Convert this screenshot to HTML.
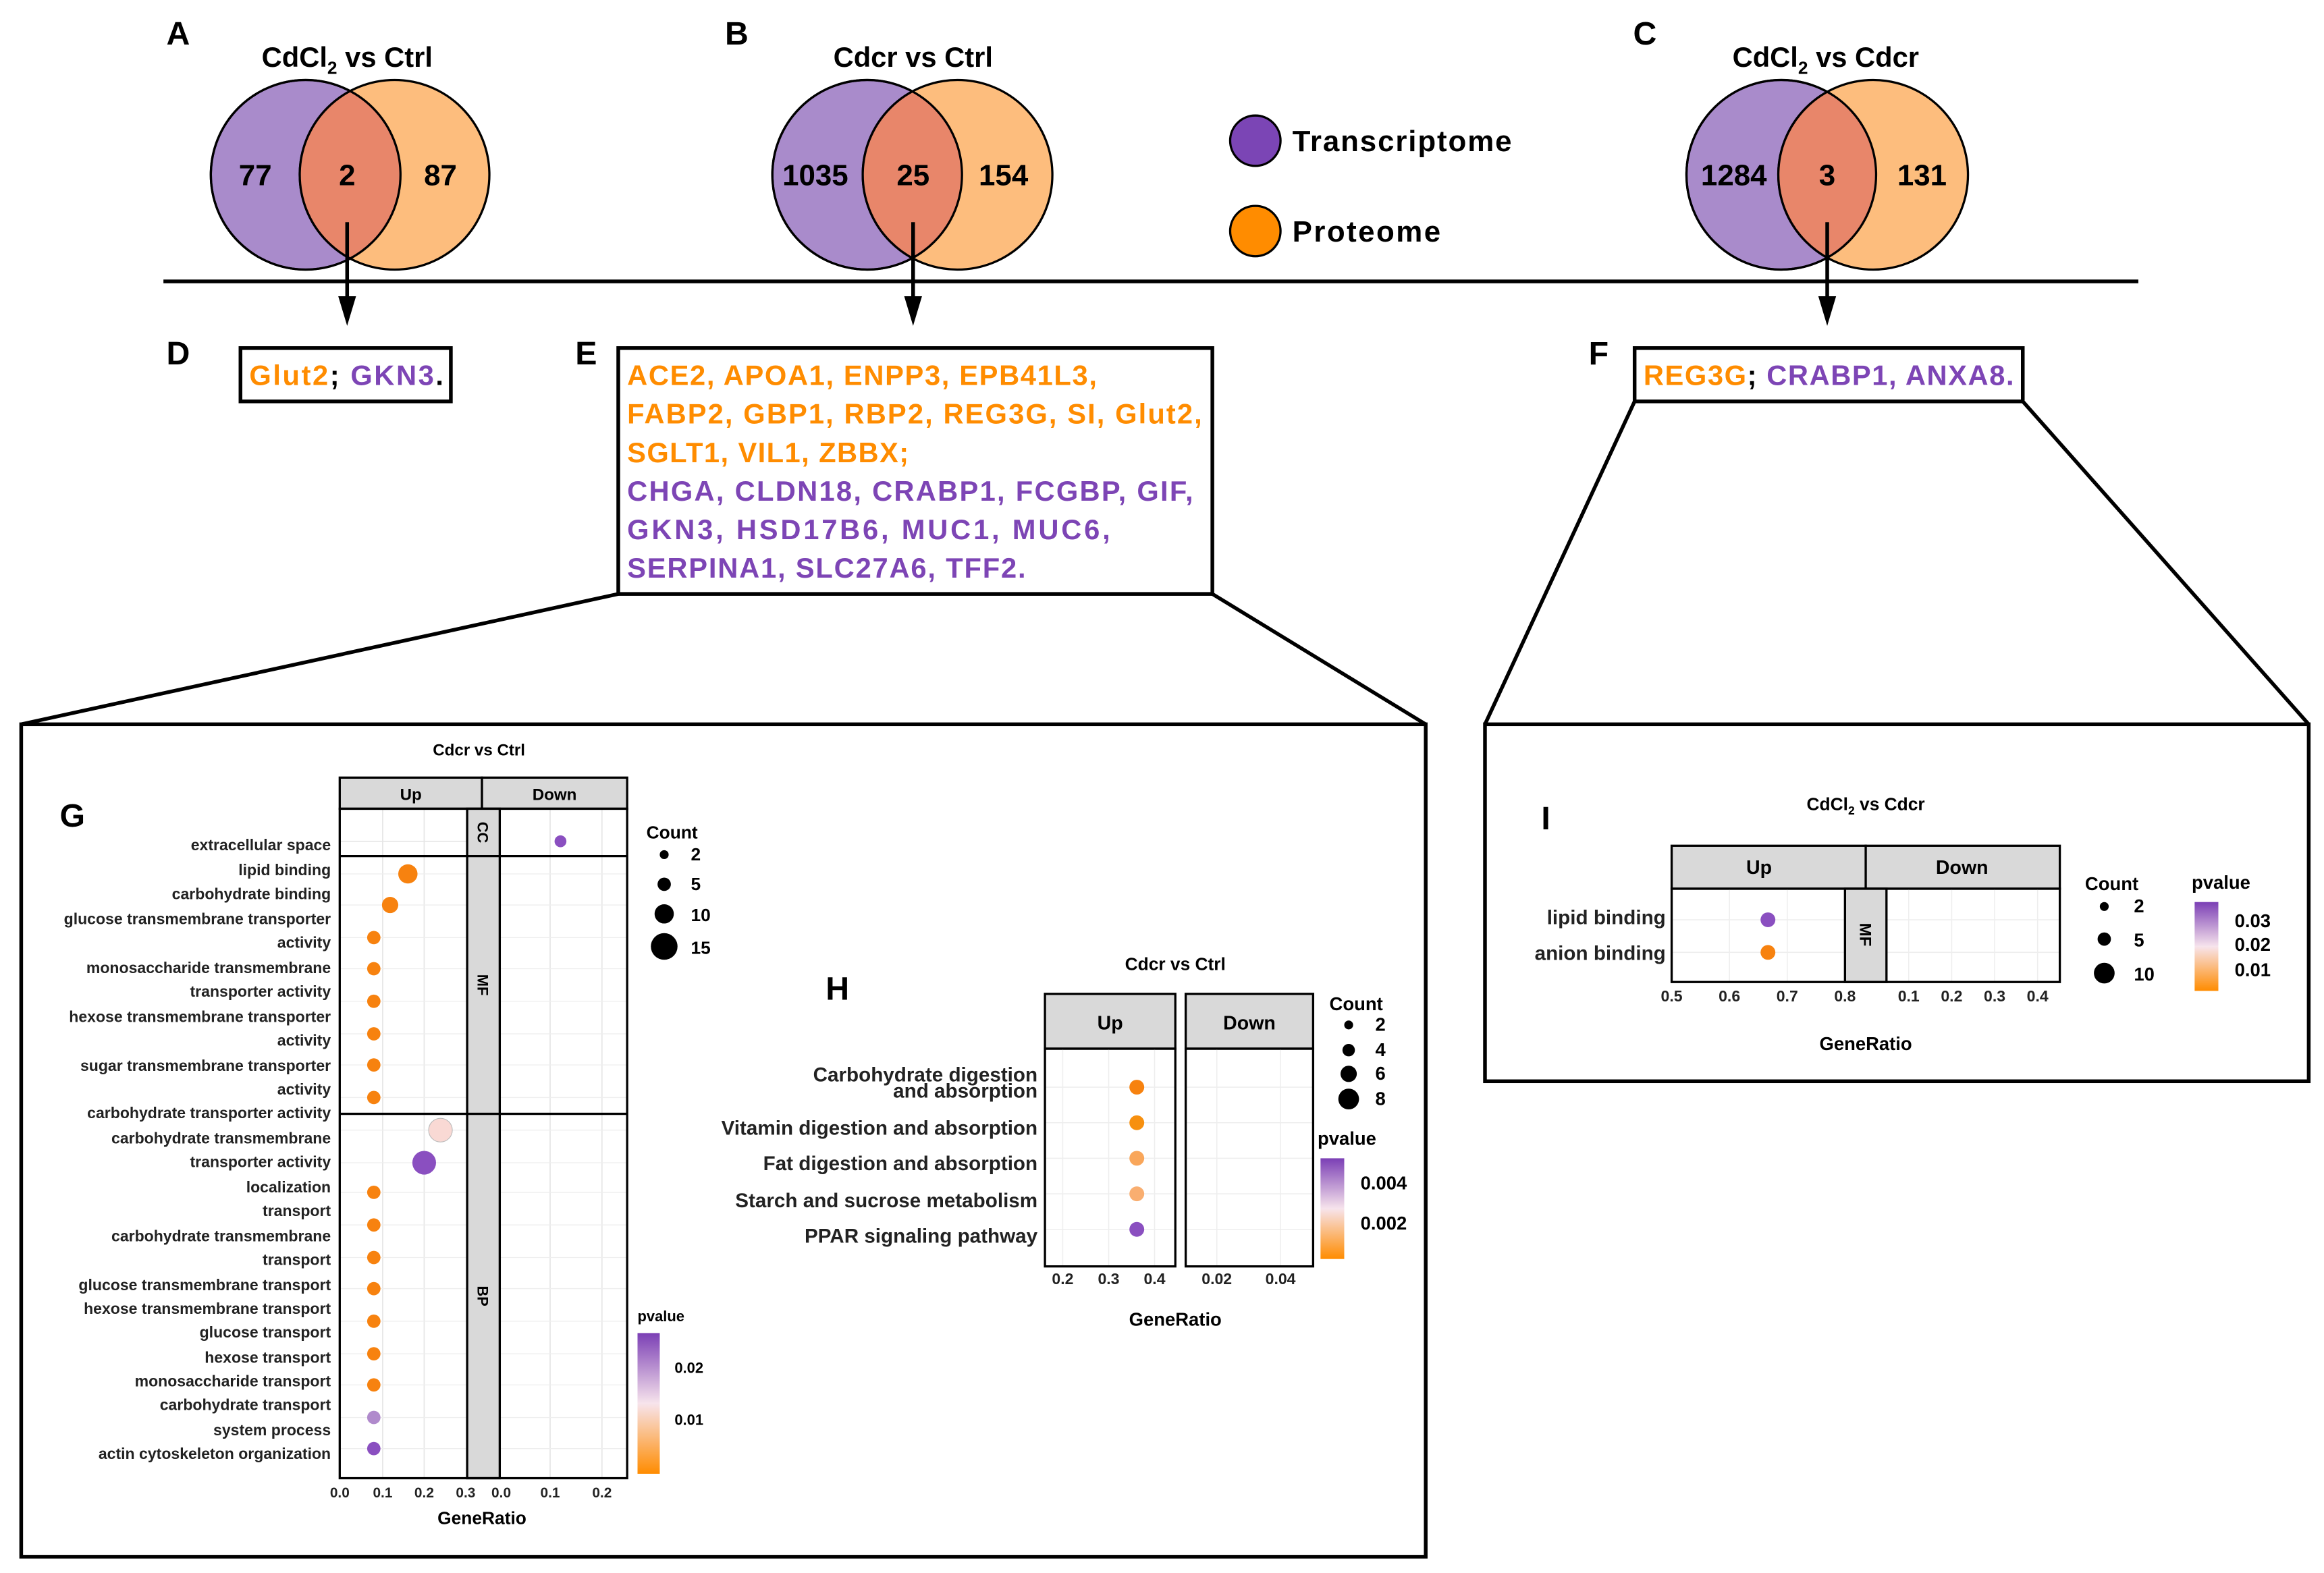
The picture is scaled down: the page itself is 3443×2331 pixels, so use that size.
<!DOCTYPE html>
<html><head><meta charset="utf-8"><style>html,body{margin:0;padding:0;background:#fff}svg{display:block}</style></head><body>
<svg xmlns="http://www.w3.org/2000/svg" width="3443" height="2331" viewBox="0 0 1568 1062" font-family="Liberation Sans, Arial, sans-serif">
<defs>
<linearGradient id="pg" x1="0" y1="0" x2="0" y2="1"><stop offset="0" stop-color="#7b3fb5"/><stop offset="0.5" stop-color="#f7e4ec"/><stop offset="1" stop-color="#ff8c00"/></linearGradient>
</defs>
<rect width="1568" height="1062" fill="#fff"/>
<g font-weight="bold" font-size="22">
<text x="112" y="30">A</text><text x="489" y="30">B</text><text x="1102" y="30">C</text>
<text x="112" y="246">D</text><text x="388" y="246">E</text><text x="1072" y="246">F</text>
<text x="40" y="558">G</text><text x="557" y="675">H</text><text x="1040" y="560">I</text>
</g>
<g font-weight="bold" font-size="19" text-anchor="middle">
<text x="234" y="45">CdCl<tspan font-size="12" dy="5">2</tspan><tspan dy="-5"> vs Ctrl</tspan></text>
<text x="616" y="45">Cdcr vs Ctrl</text>
<text x="1232" y="45">CdCl<tspan font-size="12" dy="5">2</tspan><tspan dy="-5"> vs Cdcr</tspan></text>
</g>
<g stroke="#000" stroke-width="1.5">
<circle cx="206" cy="118" r="64" fill="#a98bcb"/><circle cx="266" cy="118" r="64" fill="#fdbd7d"/>
<circle cx="585" cy="118" r="64" fill="#a98bcb"/><circle cx="646" cy="118" r="64" fill="#fdbd7d"/>
<circle cx="1202" cy="118" r="64" fill="#a98bcb"/><circle cx="1264" cy="118" r="64" fill="#fdbd7d"/>
</g>
<clipPath id="c1"><circle cx="206" cy="118" r="64"/></clipPath>
<clipPath id="c2"><circle cx="585" cy="118" r="64"/></clipPath>
<clipPath id="c3"><circle cx="1202" cy="118" r="64"/></clipPath>
<circle cx="266" cy="118" r="64" fill="#e8866a" stroke="#000" stroke-width="1.5" clip-path="url(#c1)"/>
<circle cx="646" cy="118" r="64" fill="#e8866a" stroke="#000" stroke-width="1.5" clip-path="url(#c2)"/>
<circle cx="1264" cy="118" r="64" fill="#e8866a" stroke="#000" stroke-width="1.5" clip-path="url(#c3)"/>
<g fill="none" stroke="#000" stroke-width="1.5"><circle cx="206" cy="118" r="64"/><circle cx="585" cy="118" r="64"/><circle cx="1202" cy="118" r="64"/></g>
<g font-weight="bold" font-size="20" text-anchor="middle">
<text x="172" y="125">77</text><text x="234" y="125">2</text><text x="297" y="125">87</text>
<text x="550" y="125">1035</text><text x="616" y="125">25</text><text x="677" y="125">154</text>
<text x="1170" y="125">1284</text><text x="1233" y="125">3</text><text x="1297" y="125">131</text>
</g>
<circle cx="847" cy="95" r="17" fill="#7b45b5" stroke="#000" stroke-width="1.5"/>
<circle cx="847" cy="156" r="17" fill="#ff8c00" stroke="#000" stroke-width="1.5"/>
<g font-weight="bold" font-size="20"><text x="872" y="102" textLength="148" lengthAdjust="spacing">Transcriptome</text><text x="872" y="163" textLength="100" lengthAdjust="spacing">Proteome</text></g>
<line x1="110" y1="190" x2="1443" y2="190" stroke="#000" stroke-width="2.5"/>
<g stroke="#000" stroke-width="2.5">
<line x1="234" y1="150" x2="234" y2="205"/>
<line x1="616" y1="150" x2="616" y2="205"/>
<line x1="1233" y1="150" x2="1233" y2="205"/>
</g>
<path d="M228,200 L240,200 L234,220 z M610,200 L622,200 L616,220 z M1227,200 L1239,200 L1233,220 z" fill="#000"/>
<g fill="none" stroke="#000" stroke-width="2.5">
<rect x="162" y="235" width="142" height="36"/>
<rect x="417" y="235" width="401" height="166"/>
<rect x="1103" y="235" width="262" height="36"/>
<line x1="417" y1="401" x2="14" y2="489"/><line x1="818" y1="401" x2="962" y2="489"/>
<line x1="1103" y1="271" x2="1002" y2="489"/><line x1="1365" y1="271" x2="1558" y2="489"/>
<rect x="14" y="489" width="948" height="562"/>
<rect x="1002" y="489" width="556" height="241"/>
</g>
<g font-weight="bold" font-size="19">
<text x="168" y="260" textLength="131" lengthAdjust="spacing"><tspan fill="#ff8c00">Glut2</tspan>; <tspan fill="#7d45b5">GKN3</tspan>.</text>
<text x="1109" y="260" textLength="250" lengthAdjust="spacing"><tspan fill="#ff8c00">REG3G</tspan>; <tspan fill="#7d45b5">CRABP1, ANXA8.</tspan></text>
<g fill="#ff8c00"><text x="423" y="260" textLength="317" lengthAdjust="spacing">ACE2, APOA1, ENPP3, EPB41L3,</text><text x="423" y="286" textLength="388" lengthAdjust="spacing">FABP2, GBP1, RBP2, REG3G, SI, Glut2,</text><text x="423" y="312" textLength="190" lengthAdjust="spacing">SGLT1, VIL1, ZBBX;</text></g>
<g fill="#7d45b5"><text x="423" y="338" textLength="382" lengthAdjust="spacing">CHGA, CLDN18, CRABP1, FCGBP, GIF,</text><text x="423" y="364" textLength="326" lengthAdjust="spacing">GKN3, HSD17B6, MUC1, MUC6,</text><text x="423" y="390" textLength="269" lengthAdjust="spacing">SERPINA1, SLC27A6, TFF2.</text></g>
</g>
<g font-weight="bold" font-size="11" text-anchor="middle"><text x="323" y="510">Cdcr vs Ctrl</text></g>
<g stroke="#e6e6e6" stroke-width="0.8">
<line x1="229" y1="568" x2="315" y2="568"/>
<line x1="258" y1="546" x2="258" y2="998"/><line x1="286" y1="546" x2="286" y2="998"/>
<line x1="371" y1="546" x2="371" y2="998"/><line x1="406" y1="546" x2="406" y2="998"/>
</g>
<g stroke="#eee" stroke-width="0.6">
<line x1="229" y1="590" x2="423" y2="590"/><line x1="229" y1="611" x2="423" y2="611"/><line x1="229" y1="633" x2="423" y2="633"/><line x1="229" y1="654" x2="423" y2="654"/><line x1="229" y1="676" x2="423" y2="676"/><line x1="229" y1="698" x2="423" y2="698"/><line x1="229" y1="719" x2="423" y2="719"/><line x1="229" y1="741" x2="423" y2="741"/>
<line x1="229" y1="763" x2="423" y2="763"/><line x1="229" y1="785" x2="423" y2="785"/><line x1="229" y1="805" x2="423" y2="805"/><line x1="229" y1="827" x2="423" y2="827"/><line x1="229" y1="849" x2="423" y2="849"/><line x1="229" y1="870" x2="423" y2="870"/><line x1="229" y1="892" x2="423" y2="892"/><line x1="229" y1="914" x2="423" y2="914"/><line x1="229" y1="935" x2="423" y2="935"/><line x1="229" y1="957" x2="423" y2="957"/><line x1="229" y1="978" x2="423" y2="978"/>
</g>
<rect x="229" y="525" width="96" height="21" fill="#d9d9d9" stroke="#000" stroke-width="1.5"/>
<rect x="325" y="525" width="98" height="21" fill="#d9d9d9" stroke="#000" stroke-width="1.5"/>
<rect x="315" y="546" width="22" height="452" fill="#d9d9d9" stroke="#000" stroke-width="1.5"/>
<rect x="229" y="546" width="194" height="452" fill="none" stroke="#000" stroke-width="1.5"/>
<line x1="229" y1="578" x2="423" y2="578" stroke="#000" stroke-width="1.5"/>
<line x1="229" y1="752" x2="423" y2="752" stroke="#000" stroke-width="1.5"/>
<g font-weight="bold" font-size="11" text-anchor="middle"><text x="277" y="540">Up</text><text x="374" y="540">Down</text></g>
<g font-weight="bold" font-size="10" text-anchor="middle">
<text transform="translate(322,562) rotate(90)">CC</text>
<text transform="translate(322,665) rotate(90)">MF</text>
<text transform="translate(322,875) rotate(90)">BP</text>
</g>
<g font-size="10.5" font-weight="bold" fill="#222" text-anchor="end">
<text x="223" y="574">extracellular space</text><text x="223" y="591">lipid binding</text><text x="223" y="607">carbohydrate binding</text><text x="223" y="624">glucose transmembrane transporter</text><text x="223" y="640">activity</text><text x="223" y="657">monosaccharide transmembrane</text><text x="223" y="673">transporter activity</text><text x="223" y="690">hexose transmembrane transporter</text><text x="223" y="706">activity</text><text x="223" y="723">sugar transmembrane transporter</text><text x="223" y="739">activity</text><text x="223" y="755">carbohydrate transporter activity</text><text x="223" y="772">carbohydrate transmembrane</text><text x="223" y="788">transporter activity</text><text x="223" y="805">localization</text><text x="223" y="821">transport</text><text x="223" y="838">carbohydrate transmembrane</text><text x="223" y="854">transport</text><text x="223" y="871">glucose transmembrane transport</text><text x="223" y="887">hexose transmembrane transport</text><text x="223" y="903">glucose transport</text><text x="223" y="920">hexose transport</text><text x="223" y="936">monosaccharide transport</text><text x="223" y="952">carbohydrate transport</text><text x="223" y="969">system process</text><text x="223" y="985">actin cytoskeleton organization</text>
</g>
<g fill="#f7820f">
<circle cx="275" cy="590" r="6.5"/><circle cx="263" cy="611" r="5.5"/>
<circle cx="252" cy="633" r="4.5"/><circle cx="252" cy="654" r="4.5"/><circle cx="252" cy="676" r="4.5"/><circle cx="252" cy="698" r="4.5"/><circle cx="252" cy="719" r="4.5"/><circle cx="252" cy="741" r="4.5"/>
<circle cx="252" cy="805" r="4.5"/><circle cx="252" cy="827" r="4.5"/><circle cx="252" cy="849" r="4.5"/><circle cx="252" cy="870" r="4.5"/><circle cx="252" cy="892" r="4.5"/><circle cx="252" cy="914" r="4.5"/><circle cx="252" cy="935" r="4.5"/>
</g>
<circle cx="378" cy="568" r="4" fill="#8a4fc0"/>
<circle cx="297" cy="763" r="8" fill="#f9d9d4" stroke="#bbb" stroke-width="0.5"/>
<circle cx="286" cy="785" r="8" fill="#8a4fc0"/>
<circle cx="252" cy="957" r="4.5" fill="#b08acc"/>
<circle cx="252" cy="978" r="4.5" fill="#8a4fc0"/>
<g font-size="9.5" font-weight="bold" fill="#222" text-anchor="middle">
<text x="229" y="1011">0.0</text><text x="258" y="1011">0.1</text><text x="286" y="1011">0.2</text><text x="314" y="1011">0.3</text><text x="338" y="1011">0.0</text><text x="371" y="1011">0.1</text><text x="406" y="1011">0.2</text>
</g>
<text x="325" y="1029" font-size="12" font-weight="bold" text-anchor="middle">GeneRatio</text>
<g font-size="12" font-weight="bold"><text x="436" y="566">Count</text>
<text x="466" y="581">2</text><text x="466" y="601">5</text><text x="466" y="622">10</text><text x="466" y="644">15</text></g>
<circle cx="448" cy="577" r="3"/><circle cx="448" cy="597" r="4.5"/><circle cx="448" cy="617" r="6.5"/><circle cx="448" cy="639" r="9"/>
<text x="430" y="892" font-size="10" font-weight="bold">pvalue</text>
<rect x="430" y="900" width="15" height="95" fill="url(#pg)"/>
<g font-size="10" font-weight="bold"><text x="455" y="927">0.02</text><text x="455" y="962">0.01</text></g>
<text x="793" y="655" font-size="12" font-weight="bold" text-anchor="middle">Cdcr vs Ctrl</text>
<rect x="705" y="671" width="88" height="37" fill="#d9d9d9" stroke="#000" stroke-width="1.5"/>
<rect x="800" y="671" width="86" height="37" fill="#d9d9d9" stroke="#000" stroke-width="1.5"/>
<g stroke="#eee" stroke-width="0.7">
<line x1="705" y1="734" x2="793" y2="734"/><line x1="705" y1="758" x2="793" y2="758"/><line x1="705" y1="782" x2="793" y2="782"/><line x1="705" y1="806" x2="793" y2="806"/><line x1="705" y1="830" x2="793" y2="830"/>
<line x1="800" y1="734" x2="886" y2="734"/><line x1="800" y1="758" x2="886" y2="758"/><line x1="800" y1="782" x2="886" y2="782"/><line x1="800" y1="806" x2="886" y2="806"/><line x1="800" y1="830" x2="886" y2="830"/>
<line x1="717" y1="708" x2="717" y2="855"/><line x1="748" y1="708" x2="748" y2="855"/><line x1="779" y1="708" x2="779" y2="855"/><line x1="821" y1="708" x2="821" y2="855"/><line x1="864" y1="708" x2="864" y2="855"/>
</g>
<rect x="705" y="708" width="88" height="147" fill="none" stroke="#000" stroke-width="1.5"/>
<rect x="800" y="708" width="86" height="147" fill="none" stroke="#000" stroke-width="1.5"/>
<g font-size="13" font-weight="bold" text-anchor="middle"><text x="749" y="695">Up</text><text x="843" y="695">Down</text></g>
<g font-size="13.5" font-weight="bold" fill="#222" text-anchor="end">
<text x="700" y="730">Carbohydrate digestion</text><text x="700" y="741">and absorption</text><text x="700" y="766">Vitamin digestion and absorption</text><text x="700" y="790">Fat digestion and absorption</text><text x="700" y="815">Starch and sucrose metabolism</text><text x="700" y="839">PPAR signaling pathway</text>
</g>
<circle cx="767" cy="734" r="5" fill="#f7820f"/><circle cx="767" cy="758" r="5" fill="#f7900f"/><circle cx="767" cy="782" r="5" fill="#f9a65a"/><circle cx="767" cy="806" r="5" fill="#f9ae70"/><circle cx="767" cy="830" r="5" fill="#8a4fc0"/>
<g font-size="10.5" font-weight="bold" fill="#222" text-anchor="middle">
<text x="717" y="867">0.2</text><text x="748" y="867">0.3</text><text x="779" y="867">0.4</text><text x="821" y="867">0.02</text><text x="864" y="867">0.04</text>
</g>
<text x="793" y="895" font-size="12.5" font-weight="bold" text-anchor="middle">GeneRatio</text>
<g font-size="12.5" font-weight="bold"><text x="897" y="682">Count</text><text x="928" y="696">2</text><text x="928" y="713">4</text><text x="928" y="729">6</text><text x="928" y="746">8</text></g>
<circle cx="910" cy="692" r="3"/><circle cx="910" cy="709" r="4.2"/><circle cx="910" cy="725" r="5.5"/><circle cx="910" cy="742" r="7"/>
<text x="889" y="773" font-size="12.5" font-weight="bold">pvalue</text>
<rect x="891" y="782" width="16" height="68" fill="url(#pg)"/>
<g font-size="12.5" font-weight="bold"><text x="918" y="803">0.004</text><text x="918" y="830">0.002</text></g>
<text x="1259" y="547" font-size="12" font-weight="bold" text-anchor="middle">CdCl<tspan font-size="8" dy="3">2</tspan><tspan dy="-3"> vs Cdcr</tspan></text>
<rect x="1128" y="571" width="131" height="29" fill="#d9d9d9" stroke="#000" stroke-width="1.5"/>
<rect x="1259" y="571" width="131" height="29" fill="#d9d9d9" stroke="#000" stroke-width="1.5"/>
<g stroke="#eee" stroke-width="0.7">
<line x1="1128" y1="621" x2="1390" y2="621"/><line x1="1128" y1="643" x2="1390" y2="643"/>
<line x1="1167" y1="600" x2="1167" y2="663"/><line x1="1206" y1="600" x2="1206" y2="663"/><line x1="1288" y1="600" x2="1288" y2="663"/><line x1="1317" y1="600" x2="1317" y2="663"/><line x1="1346" y1="600" x2="1346" y2="663"/><line x1="1375" y1="600" x2="1375" y2="663"/>
</g>
<rect x="1245" y="600" width="28" height="63" fill="#d9d9d9" stroke="#000" stroke-width="1.5"/>
<rect x="1128" y="600" width="262" height="63" fill="none" stroke="#000" stroke-width="1.5"/>
<g font-size="13" font-weight="bold" text-anchor="middle"><text x="1187" y="590">Up</text><text x="1324" y="590">Down</text></g>
<text transform="translate(1255,631) rotate(90)" font-size="11" font-weight="bold" text-anchor="middle">MF</text>
<g font-size="13.5" font-weight="bold" fill="#222" text-anchor="end"><text x="1124" y="624">lipid binding</text><text x="1124" y="648">anion binding</text></g>
<circle cx="1193" cy="621" r="5" fill="#8a4fc0"/><circle cx="1193" cy="643" r="5" fill="#f7820f"/>
<g font-size="10.5" font-weight="bold" fill="#222" text-anchor="middle">
<text x="1128" y="676">0.5</text><text x="1167" y="676">0.6</text><text x="1206" y="676">0.7</text><text x="1245" y="676">0.8</text><text x="1288" y="676">0.1</text><text x="1317" y="676">0.2</text><text x="1346" y="676">0.3</text><text x="1375" y="676">0.4</text>
</g>
<text x="1259" y="709" font-size="12.5" font-weight="bold" text-anchor="middle">GeneRatio</text>
<g font-size="12.5" font-weight="bold"><text x="1407" y="601">Count</text><text x="1440" y="616">2</text><text x="1440" y="639">5</text><text x="1440" y="662">10</text></g>
<circle cx="1420" cy="612" r="3"/><circle cx="1420" cy="634" r="4.5"/><circle cx="1420" cy="657" r="7"/>
<text x="1479" y="600" font-size="12.5" font-weight="bold">pvalue</text>
<rect x="1481" y="609" width="16" height="60" fill="url(#pg)"/>
<g font-size="12.5" font-weight="bold"><text x="1508" y="626">0.03</text><text x="1508" y="642">0.02</text><text x="1508" y="659">0.01</text></g>
</svg>
</body></html>
